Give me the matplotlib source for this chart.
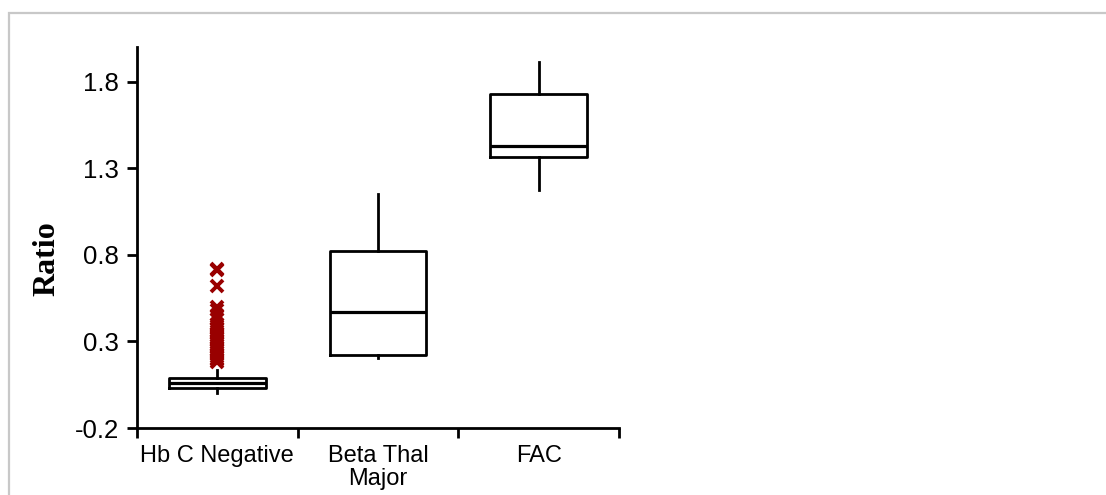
import matplotlib
matplotlib.use("Agg")
import matplotlib.pyplot as plt
from matplotlib.patches import Rectangle

# Group names and box statistics (ratio)
categories = ["Hb C Negative", "Beta Thal\nMajor", "FAC"]
whisker_low = [0.000, 0.207, 1.176]
q1 = [0.029, 0.221, 1.362]
median = [0.058, 0.467, 1.428]
q3 = [0.090, 0.822, 1.730]
whisker_high = [0.134, 1.153, 1.911]

# Outlying values for the Hb C Negative group
hbc_outliers = [0.72, 0.71, 0.62, 0.50, 0.48, 0.45, 0.43, 0.40, 0.39, 0.38,
                0.37, 0.36, 0.35, 0.34, 0.33, 0.32, 0.31, 0.30, 0.29, 0.28,
                0.27, 0.26, 0.25, 0.24, 0.23, 0.22, 0.21, 0.20, 0.19, 0.18]
outliers = [hbc_outliers, [], []]

yticks = [-0.2, 0.3, 0.8, 1.3, 1.8]

fig = plt.figure(figsize=(11.06, 4.95), dpi=100)
ax = fig.add_axes([137 / 1106, 1 - 428 / 495, 482 / 1106, 381 / 495])

stats = []
for i, name in enumerate(categories):
    stats.append(dict(label=name, whislo=whisker_low[i], q1=q1[i], med=median[i],
                      q3=q3[i], whishi=whisker_high[i], fliers=outliers[i]))

lw = 2.0
ax.bxp(stats, positions=[1, 2, 3], widths=0.6, showcaps=False,
       boxprops=dict(color="black", linewidth=lw),
       medianprops=dict(color="black", linewidth=2.3),
       whiskerprops=dict(color="black", linewidth=lw),
       flierprops=dict(marker="x", markersize=8, markeredgewidth=2.8,
                       markeredgecolor="#990000", linestyle="none"))

ax.set_xlim(0.5, 3.5)
ax.set_ylim(-0.2, 2.0)
ax.set_yticks(yticks)
ax.set_yticklabels([f"{v:.1f}" for v in yticks], fontsize=18.5,
                   family="Liberation Sans")
ax.set_xticks([1, 2, 3])
ax.set_xticklabels(categories, fontsize=17, family="Liberation Sans",
                   linespacing=1.1)
ax.set_xticks([0.5, 1.5, 2.5, 3.5], minor=True)
ax.tick_params(axis="x", which="major", length=0, pad=12)
ax.tick_params(axis="x", which="minor", length=7, width=lw, direction="out")
ax.tick_params(axis="y", length=7, width=lw, direction="out", pad=6)

for side in ("top", "right"):
    ax.spines[side].set_visible(False)
for side in ("left", "bottom"):
    ax.spines[side].set_linewidth(lw)

ax.set_ylabel("Ratio", fontsize=23, fontweight="bold", family="Liberation Serif")
ax.yaxis.set_label_coords(-0.157, 0.444)

# light frame around the chart area
fig.patches.append(Rectangle((9 / 1106, -0.2), 1.2, 1.2 - 13 / 495,
                             transform=fig.transFigure, fill=False,
                             edgecolor="#c8c8c8", linewidth=1.6))

fig.savefig("out.png", dpi=100)
